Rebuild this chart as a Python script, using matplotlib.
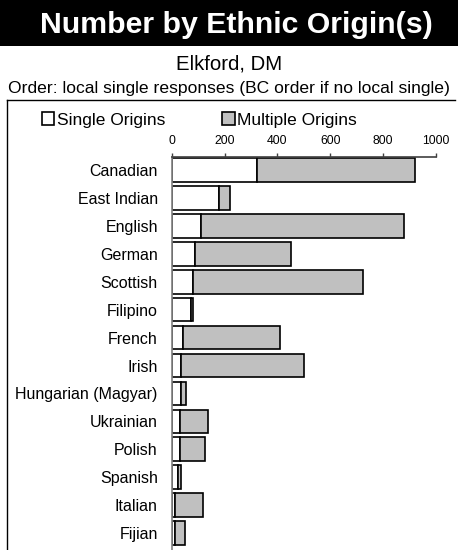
import matplotlib.pyplot as plt
from matplotlib.patches import Rectangle
from matplotlib.lines import Line2D

# data
origins = ['Canadian', 'East Indian', 'English', 'German', 'Scottish', 'Filipino',
           'French', 'Irish', 'Hungarian (Magyar)', 'Ukrainian', 'Polish',
           'Spanish', 'Italian', 'Fijian']
single = [324, 180, 110, 89, 79, 72, 44, 34, 34, 30, 30, 25, 14, 14]
multiple = [595, 41, 770, 361, 646, 9, 366, 466, 20, 106, 96, 10, 106, 36]
ticks = [0, 200, 400, 600, 800, 1000]

plt.rcParams['font.family'] = ['Liberation Sans', 'DejaVu Sans']

W, H = 458, 550
fig = plt.figure(figsize=(W / 100, H / 100), dpi=100)

# title band
fig.patches.append(Rectangle((0, 1 - 46 / H), 1, 46 / H, transform=fig.transFigure,
                             facecolor='black', edgecolor='none'))
fig.text(236 / W, 1 - 25 / H, 'Number by Ethnic Origin(s)', color='white', fontsize=21.8,
         fontweight='bold', ha='center', va='center')
fig.text(0.5, 1 - 64 / H, 'Elkford, DM', fontsize=14.7, ha='center', va='center')
fig.text(0.5, 1 - 89 / H, 'Order: local single responses (BC order if no local single)',
         fontsize=12.6, ha='center', va='center')

# frame lines
fig.lines.append(Line2D([7 / W, 455 / W], [1 - 100 / H, 1 - 100 / H],
                        transform=fig.transFigure, color='black', lw=1))
fig.lines.append(Line2D([7 / W, 7 / W], [1 - 100 / H, 0],
                        transform=fig.transFigure, color='black', lw=1))

ax = fig.add_axes([171.7 / W, 0, (436 - 171.7) / W, 1 - 157 / H])
y = range(len(origins))
ax.barh(y, single, height=0.85, color='white', edgecolor='black', linewidth=1.2,
        label='Single Origins')
ax.barh(y, multiple, left=single, height=0.85, color='#c0c0c0', edgecolor='black',
        linewidth=1.2, label='Multiple Origins')

ax.set_xlim(0, 1000)
ax.set_ylim(len(origins) - 0.4, -0.46)
ax.set_yticks(list(y))
ax.set_yticklabels(origins, fontsize=11.5)
ax.tick_params(axis='y', length=0, pad=10)
ax.xaxis.tick_top()
ax.set_xticks(ticks)
ax.set_xticklabels([str(t) for t in ticks], fontsize=8.8)
ax.tick_params(axis='x', length=3, width=1, color='#404040', pad=4)
for s in ['right', 'bottom']:
    ax.spines[s].set_visible(False)
ax.spines['top'].set_color('#404040')
ax.spines['top'].set_linewidth(1.2)
ax.spines['left'].set_color('#808080')
ax.spines['left'].set_linewidth(1.2)

leg = fig.legend(loc='center left', bbox_to_anchor=(42 / W, 1 - 120 / H), ncol=2,
                 frameon=False, fontsize=12.5, handlelength=0.7, handleheight=0.7,
                 handletextpad=0.15, columnspacing=3.3, borderaxespad=0, borderpad=0)

fig.savefig('out.png', dpi=100)
